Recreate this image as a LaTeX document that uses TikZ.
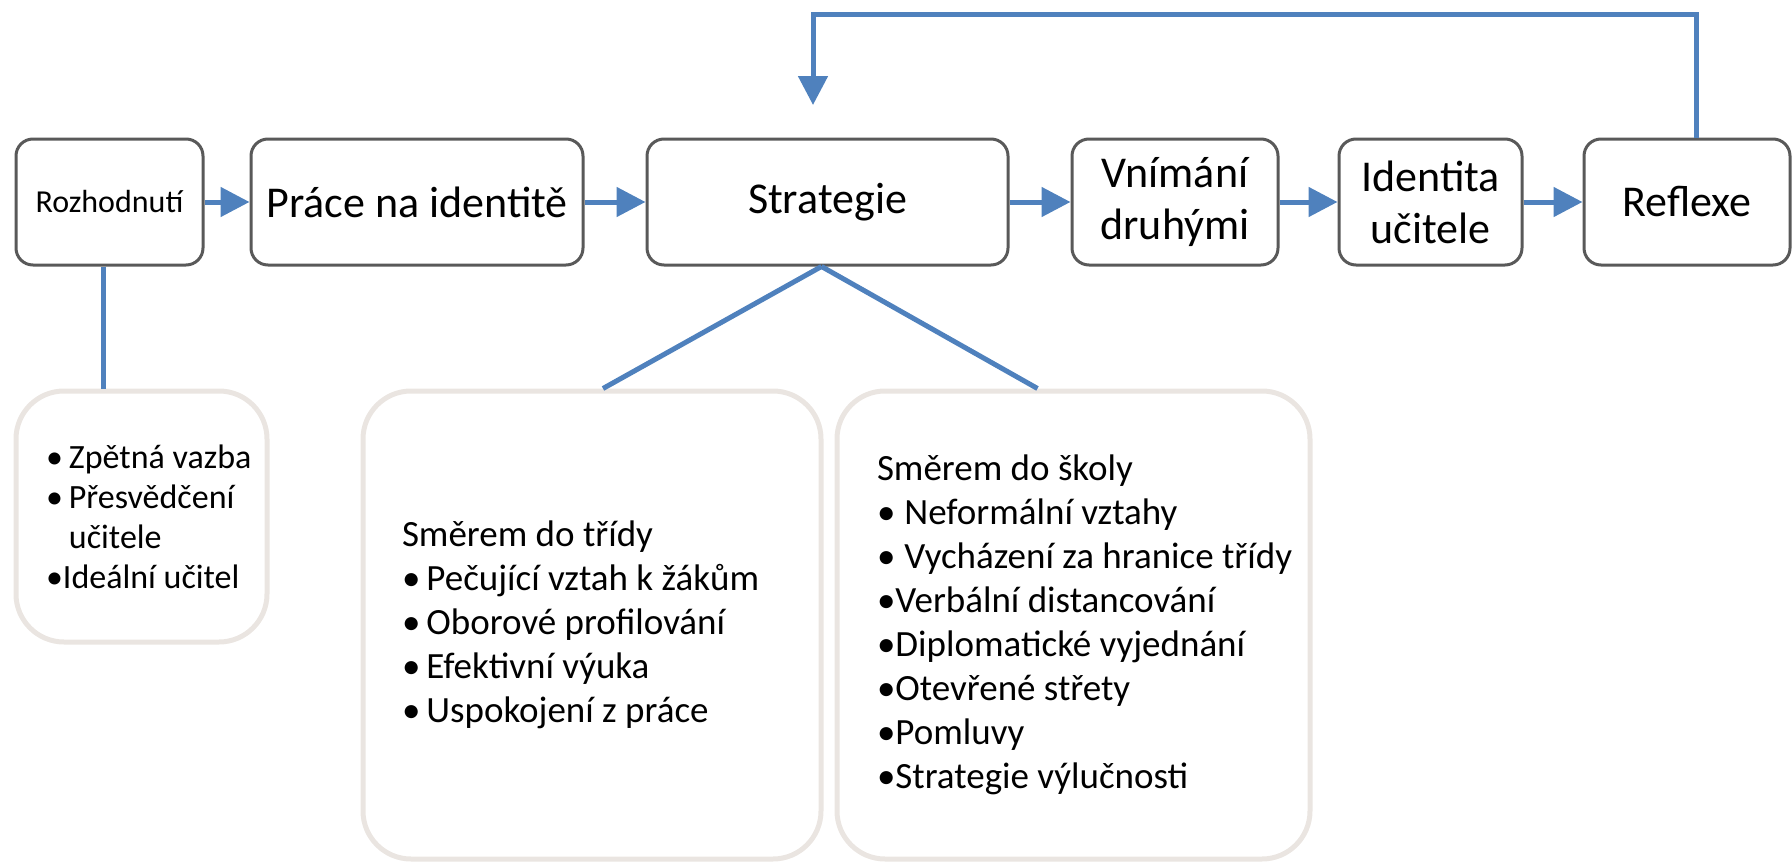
\documentclass[tikz,border=0pt]{standalone}
\usepackage{fontspec}
\setmainfont{Carlito}
\usetikzlibrary{arrows.meta}

\definecolor{flowblue}{RGB}{79,129,189}
\definecolor{boxgray}{RGB}{89,89,89}
\definecolor{listrim}{RGB}{234,229,225}

\begin{document}
\begin{tikzpicture}[x=1pt,y=-1pt]
          \tikzstyle{stage}=[draw=boxgray,line width=3pt,rounded corners=17pt,minimum height=126pt,inner sep=0pt,align=center,font=\fontsize{44}{52}\selectfont]
          \tikzstyle{listbox}=[draw=listrim,line width=5pt,rounded corners=48pt,inner sep=0pt,align=flush left,font=\fontsize{37}{44}\selectfont]
          \tikzstyle{flow}=[flowblue,line width=5pt,-{Triangle[length=29pt,width=29pt]}]
          \tikzstyle{link}=[flowblue,line width=5pt]

          \useasboundingbox (0,0) rectangle (1792,862);

          \node (rozh) at (109.5,202) [stage,minimum width=187pt,font=\fontsize{32}{38}\selectfont] {Rozhodnutí};
          \node (prace) at (417,202) [stage,minimum width=332pt] {Práce na identitě};
          \node (strat) at (827.5,202) [stage,minimum width=361pt] {Strategie};
          \node (vnim) at (1175,202) [stage,minimum width=206pt] {Vnímání\\druhými};
          \node (ident) at (1430.5,202) [stage,minimum width=183pt] {Identita\\učitele};
          \node (refl) at (1687,202) [stage,minimum width=206pt] {Reflexe};

          \node (zpet) at (141.5,516.5) [listbox,minimum width=251pt,minimum height=251pt,text width=191pt,font=\fontsize{34}{40}\selectfont]
            {\mbox{\textbullet\hspace{6pt}Zpětná vazba}\\ \textbullet\hspace{6pt}Přesvědčení\\ \phantom{\textbullet\hspace{6pt}}učitele\\ \mbox{\textbullet Ideální učitel}};
          \node (trida) at (592,625) [listbox,minimum width=458pt,minimum height=468pt,text width=380pt]
            {Směrem do třídy\\ \textbullet\hspace{6pt}Pečující vztah k žákům\\ \textbullet\hspace{6pt}Oborové profilování\\ \textbullet\hspace{6pt}Efektivní výuka\\ \textbullet\hspace{6pt}Uspokojení z práce};
          \node (skola) at (1073.5,625) [listbox,minimum width=473pt,minimum height=468pt,text width=393pt]
            {Směrem do školy\\ \textbullet\hspace{9pt}Neformální vztahy\\ \mbox{\textbullet\hspace{9pt}Vycházení za hranice třídy}\\ \textbullet Verbální distancování\\ \textbullet Diplomatické vyjednání\\ \textbullet Otevřené střety\\ \textbullet Pomluvy\\ \textbullet Strategie výlučnosti};

          \coordinate (fbtop) at (813,14);
          \coordinate (fbtip) at (813,105);

          \draw[flow] (rozh) -- (prace);
          \draw[flow] (prace) -- (strat);
          \draw[flow] (strat) -- (vnim);
          \draw[flow] (vnim) -- (ident);
          \draw[flow] (ident) -- (refl);
          \draw[flow] ([xshift=9pt]refl.north) |- (fbtop) -- (fbtip);

          \draw[link] ([xshift=-6pt]rozh.south) -- ([xshift=-6pt]rozh.south |- zpet.north);
          \draw[link] ([xshift=-6pt]strat.south) -- ([xshift=11pt]trida.north);
          \draw[link] ([xshift=-6pt]strat.south) -- ([xshift=-36pt]skola.north);
        \end{tikzpicture}
\end{document}
